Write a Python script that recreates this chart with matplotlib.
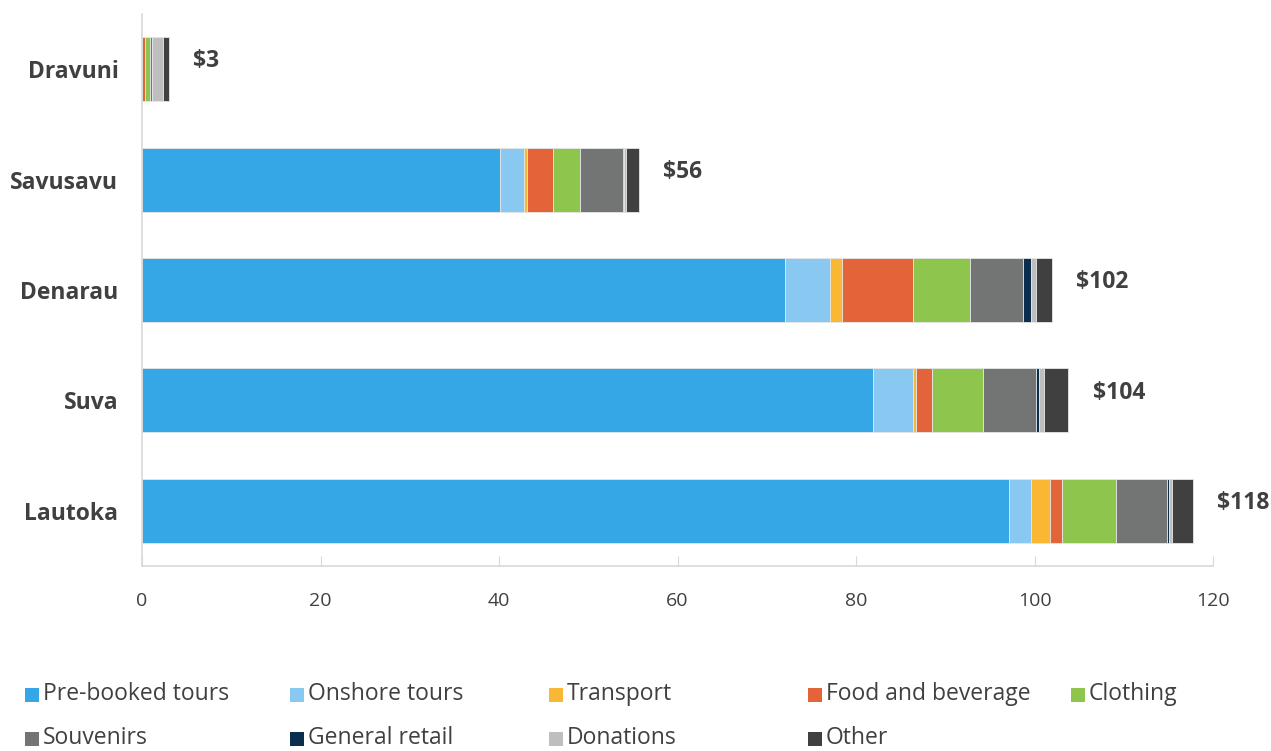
import matplotlib
matplotlib.use("Agg")
import matplotlib.pyplot as plt
from matplotlib.patches import Rectangle
import numpy as np

ports = ["Lautoka", "Suva", "Denarau", "Savusavu", "Dravuni"]
categories = ["Pre-booked tours", "Onshore tours", "Transport", "Food and beverage",
              "Clothing", "Souvenirs", "General retail", "Donations", "Other"]
colors = ["#36A7E6", "#89C9F1", "#F9B733", "#E4643A", "#8DC54D",
          "#737474", "#0B2E4F", "#BEBEBE", "#404040"]

# values per category, ordered as ports
prebooked = [97.1, 81.9, 72.0, 40.1, 0.0]
onshore = [2.5, 4.5, 5.1, 2.7, 0.0]
transport = [2.1, 0.3, 1.3, 0.3, 0.0]
food = [1.4, 1.8, 8.0, 3.0, 0.3]
clothing = [6.0, 5.7, 6.4, 3.0, 0.6]
souvenirs = [5.7, 6.0, 5.9, 4.8, 0.2]
general_retail = [0.3, 0.3, 0.9, 0.1, 0.0]
donations = [0.3, 0.6, 0.6, 0.2, 1.3]
other = [2.4, 2.7, 1.8, 1.5, 0.6]
totals = [118, 104, 102, 56, 3]
total_labels = ["$118", "$104", "$102", "$56", "$3"]
xticks = [0, 20, 40, 60, 80, 100, 120]

series = [prebooked, onshore, transport, food, clothing, souvenirs,
          general_retail, donations, other]

plt.rcParams['font.family'] = ['Open Sans', 'DejaVu Sans']
text_color = "#404040"

fig = plt.figure(figsize=(12.71, 7.51), dpi=100)
ax = fig.add_axes([142/1271, 1 - 566/751, (1213-142)/1271, (566-14)/751])

y = np.arange(len(ports))
left = np.zeros(len(ports))
handles = []
for vals, c, name in zip(series, colors, categories):
    v = np.array(vals)
    b = ax.barh(y, v, left=left, height=0.58, color=c, edgecolor="#e6e6e6",
                linewidth=0.6, label=name)
    handles.append(b)
    left += v

for yi, end, lab in zip(y, left, total_labels):
    ax.text(end + 2.7, yi + 0.07, lab, va="center", ha="left", fontsize=16.5,
            fontweight="bold", color=text_color)

ax.set_xlim(0, 120)
ax.set_ylim(-0.5, 4.5)
ax.set_yticks(y)
ax.set_yticklabels(ports, fontsize=16.5, fontweight="bold", color=text_color)
ax.set_xticks(xticks)
ax.set_xticklabels([str(t) for t in xticks], fontsize=14, color=text_color)
ax.tick_params(axis="y", length=0, pad=17)
ax.tick_params(axis="x", direction="in", length=7, color="#d9d9d9", pad=19)
for s in ["top", "right"]:
    ax.spines[s].set_visible(False)
for s in ["left", "bottom"]:
    ax.spines[s].set_color("#d9d9d9")
    ax.spines[s].set_linewidth(1.2)

# Legend drawn manually in figure pixel coordinates
col_x = [25, 290, 549, 808, 1071]
row_y = [695, 739]
W, H = 1271, 751
for i, (name, c) in enumerate(zip(categories, colors)):
    r = 0 if i < 5 else 1
    cidx = i if i < 5 else i - 5
    x0 = col_x[cidx]
    yc = row_y[r]
    fig.add_artist(Rectangle((x0 / W, 1 - (yc + 7) / H), 14 / W, 14 / H,
                             transform=fig.transFigure, color=c, lw=0))
    fig.text((x0 + 18) / W, 1 - (yc - 1) / H, name, fontsize=16.5, color=text_color,
             va="center", ha="left")

fig.savefig("out.png", dpi=100)
